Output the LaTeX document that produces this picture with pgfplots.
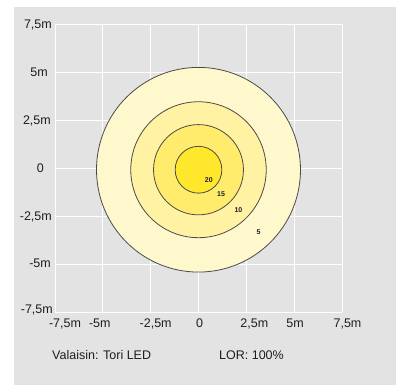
\documentclass[border=0pt]{standalone}
\usepackage{pgfplots}
\pgfplotsset{compat=1.18}
\usepackage{fontspec}
\setmainfont{Liberation Sans}
\definecolor{bg}{HTML}{E3E3E3}
\definecolor{c5}{HTML}{FFF8CC}
\definecolor{c10}{HTML}{FFF2A3}
\definecolor{c15}{HTML}{FFEC6C}
\definecolor{c20}{HTML}{FFE82C}
\definecolor{ln}{HTML}{4A4A4A}
\definecolor{txt}{HTML}{1E1E1E}
\begin{document}
\fontsize{12.5bp}{15bp}\selectfont
\begin{tikzpicture}
\useasboundingbox (0,0) rectangle (396bp,385bp);
\fill[white] (0,0) rectangle (396bp,385bp);
\fill[bg] (14bp,0) rectangle (396bp,378bp);
\begin{axis}[
  at={(55bp,73bp)}, anchor=south west,
  scale only axis, width=287bp, height=288bp,
  xmin=-7.5, xmax=7.5, ymin=-7.5, ymax=7.5,
  xtick={-7.5,-5,-2.5,0,2.5,5,7.5},
  ytick={-7.5,-5,-2.5,0,2.5,5,7.5},
  xticklabels={{\hspace*{20bp}-7,5m},{-5m\hspace*{6bp}},{\hspace*{10bp}-2,5m},{\hspace*{2bp}0},{\hspace*{16bp}2,5m},{\hspace*{2bp}5m},{\hspace*{11bp}7,5m}},
  yticklabels={{\raisebox{3bp}{-7,5m}\hspace*{-1bp}},{\raisebox{1bp}{-5m}\hspace*{1bp}},{-2,5m},{0\hspace*{8bp}},{2,5m\hspace*{1bp}},{5m\hspace*{4bp}},{7,5m}},
  xticklabel style={anchor=base, inner sep=0pt, yshift=-15.5bp, text=txt},
  yticklabel style={anchor=base east, inner sep=0pt, xshift=-3bp, yshift=-4.4bp, text=txt},
  major tick length=0pt,
  axis line style={draw=none},
  grid=major,
  grid style={white, line width=0.9bp},
  clip=false,
]
\filldraw[fill=c5, draw=ln, line width=0.8bp] (axis cs:0,-0.09) ellipse [x radius=5.33, y radius=5.33];
\filldraw[fill=c10, draw=ln, line width=0.8bp] (axis cs:0,-0.09) ellipse [x radius=3.54, y radius=3.54];
\filldraw[fill=c15, draw=ln, line width=0.8bp] (axis cs:0,-0.09) ellipse [x radius=2.35, y radius=2.35];
\filldraw[fill=c20, draw=ln, line width=0.8bp] (axis cs:0,-0.09) ellipse [x radius=1.22, y radius=1.22];
\node[font=\fontsize{7bp}{8bp}\selectfont\bfseries, text=txt, inner sep=0pt] at (axis cs:0.54,-0.65) {20};
\node[font=\fontsize{7bp}{8bp}\selectfont\bfseries, text=txt, inner sep=0pt] at (axis cs:1.18,-1.375) {15};
\node[font=\fontsize{7bp}{8bp}\selectfont\bfseries, text=txt, inner sep=0pt] at (axis cs:2.09,-2.21) {10};
\node[font=\fontsize{7bp}{8bp}\selectfont\bfseries, text=txt, inner sep=0pt] at (axis cs:3.14,-3.33) {5};
\end{axis}
\node[anchor=base west, inner sep=0pt, text=txt] at (52bp,25.5bp) {Valaisin: Tori LED};
\node[anchor=base west, inner sep=0pt, text=txt] at (219bp,25.5bp) {LOR: 100\%};
\end{tikzpicture}
\end{document}
